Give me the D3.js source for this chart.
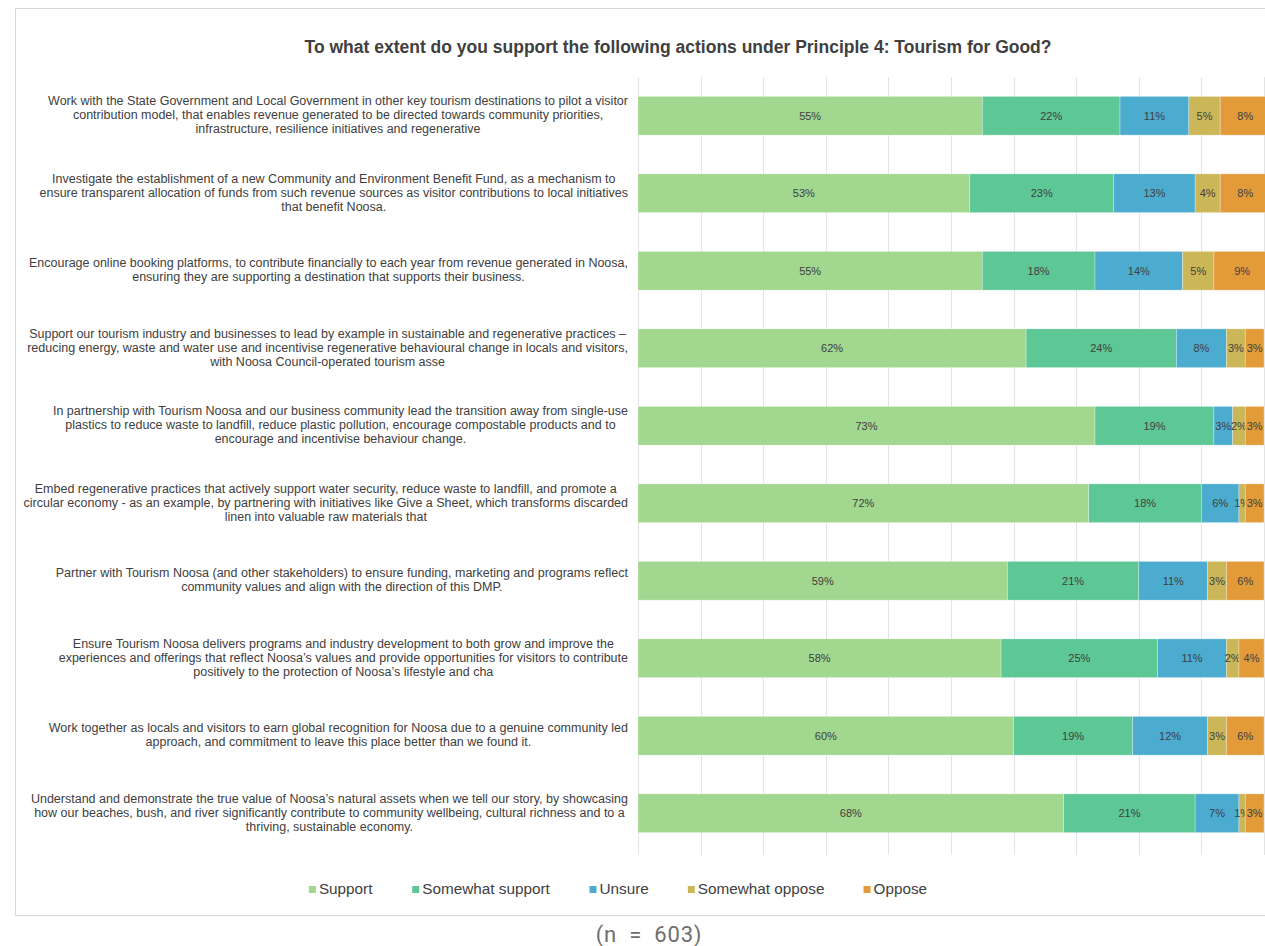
<!DOCTYPE html>
<html>
<head>
<meta charset="utf-8">
<script src="https://cdn.jsdelivr.net/npm/d3@7"></script>
<style>
  body { margin: 0; background: #fff; }
  text { font-family: "Liberation Sans", Arial, sans-serif; }
</style>
</head>
<body>
<div id="chart"></div>
<script>
// Chart data
const categories = [
  ["Work with the State Government and Local Government in other key tourism destinations to pilot a visitor",
   "contribution model, that enables revenue generated to be directed towards community priorities,",
   "infrastructure, resilience initiatives and regenerative"],
  ["Investigate the establishment of a new Community and Environment Benefit Fund, as a mechanism to",
   "ensure transparent allocation of funds from such revenue sources as visitor contributions to local initiatives",
   "that benefit Noosa."],
  ["Encourage online booking platforms, to contribute financially to each year from revenue generated in Noosa,",
   "ensuring they are supporting a destination that supports their business."],
  ["Support our tourism industry and businesses to lead by example in sustainable and regenerative practices –",
   "reducing energy, waste and water use and incentivise regenerative behavioural change in locals and visitors,",
   "with Noosa Council-operated tourism asse"],
  ["In partnership with Tourism Noosa and our business community lead the transition away from single-use",
   "plastics to reduce waste to landfill, reduce plastic pollution, encourage compostable products and to",
   "encourage and incentivise behaviour change."],
  ["Embed regenerative practices that actively support water security, reduce waste to landfill, and promote a",
   "circular economy - as an example, by partnering with initiatives like Give a Sheet, which transforms discarded",
   "linen into valuable raw materials that"],
  ["Partner with Tourism Noosa (and other stakeholders) to ensure funding, marketing and programs reflect",
   "community values and align with the direction of this DMP."],
  ["Ensure Tourism Noosa delivers programs and industry development to both grow and improve the",
   "experiences and offerings that reflect Noosa’s values and provide opportunities for visitors to contribute",
   "positively to the protection of Noosa’s lifestyle and cha"],
  ["Work together as locals and visitors to earn global recognition for Noosa due to a genuine community led",
   "approach, and commitment to leave this place better than we found it."],
  ["Understand and demonstrate the true value of Noosa’s natural assets when we tell our story, by showcasing",
   "how our beaches, bush, and river significantly contribute to community wellbeing, cultural richness and to a",
   "thriving, sustainable economy."]
];

const seriesNames = ["Support", "Somewhat support", "Unsure", "Somewhat oppose", "Oppose"];
const seriesColors = ["#a1d78e", "#5ec796", "#4bacd0", "#cbb757", "#e39a38"];

const support         = [55, 53, 55, 62, 73, 72, 59, 58, 60, 68];
const somewhatSupport = [22, 23, 18, 24, 19, 18, 21, 25, 19, 21];
const unsure          = [11, 13, 14,  8,  3,  6, 11, 11, 12,  7];
const somewhatOppose  = [ 5,  4,  5,  3,  2,  1,  3,  2,  3,  1];
const oppose          = [ 8,  8,  9,  3,  3,  3,  6,  4,  6,  3];

const xTicks = [0, 10, 20, 30, 40, 50, 60, 70, 80, 90, 100];

const title = "To what extent do you support the following actions under Principle 4: Tourism for Good?";
const footnote = "(n = 603)";

// Build table for the stack
const table = categories.map((c, i) => ({
  idx: i,
  "Support": support[i],
  "Somewhat support": somewhatSupport[i],
  "Unsure": unsure[i],
  "Somewhat oppose": somewhatOppose[i],
  "Oppose": oppose[i]
}));

const W = 1265, H = 946;
const textColor = "#404040";

const svg = d3.select("#chart")
  .append("svg")
  .attr("width", W)
  .attr("height", H);

// chart frame
svg.append("rect")
  .attr("x", 15.5)
  .attr("y", 8.5)
  .attr("width", W)
  .attr("height", 907)
  .attr("fill", "none")
  .attr("stroke", "#d9d9d9");

const x = d3.scaleLinear()
  .domain([0, 100])
  .range([638, 1264]);

const y = d3.scaleBand()
  .domain(table.map(d => d.idx))
  .range([77, 852])
  .paddingInner(0.5)
  .paddingOuter(0.25);

// vertical grid
svg.selectAll("line.vertical-grid")
  .data(xTicks)
  .enter()
  .append("line")
  .attr("class", "vertical-grid")
  .attr("x1", d => Math.round(x(d)) + 0.5)
  .attr("x2", d => Math.round(x(d)) + 0.5)
  .attr("y1", 77)
  .attr("y2", 855)
  .style("stroke", "#e3e3e3")
  .style("stroke-width", 1);

const stack = d3.stack().keys(seriesNames);
const layers = stack(table);
const color = d3.scaleOrdinal().domain(seriesNames).range(seriesColors);

const layer = svg.selectAll("g.layer")
  .data(layers)
  .enter().append("g")
  .attr("class", "layer")
  .attr("fill", d => color(d.key));

layer.selectAll("rect")
  .data(d => d)
  .enter().append("rect")
  .attr("x", d => x(d[0]))
  .attr("y", d => y(d.data.idx))
  .attr("width", d => x(d[1]) - x(d[0]))
  .attr("height", y.bandwidth())
  .attr("stroke", "#ffffff")
  .attr("stroke-opacity", 0.5)
  .attr("stroke-width", 0.6);

// segment labels (tiny 1% segments overlap their neighbour, as in the original)
layer.selectAll("text")
  .data(d => d)
  .enter().append("text")
  .attr("x", d => (x(d[0]) + x(d[1])) / 2)
  .attr("y", d => y(d.data.idx) + y.bandwidth() / 2)
  .attr("dy", "0.35em")
  .attr("text-anchor", "middle")
  .style("font-size", "11px")
  .style("fill", textColor)
  .text(d => (d[1] - d[0]) + "%");

// category labels: block right edge at 628, lines centred within block
const lineH = 14;
const labelRight = 628;
svg.selectAll("text.cat")
  .data(categories)
  .enter().append("text")
  .attr("class", "cat")
  .attr("text-anchor", "middle")
  .style("font-size", "12.5px")
  .style("fill", textColor)
  .each(function (lines, i) {
    const cy = y(i) + y.bandwidth() / 2 - 1;
    const top = cy - (lines.length - 1) * lineH / 2;
    const spans = d3.select(this).selectAll("tspan")
      .data(lines)
      .enter().append("tspan")
      .attr("y", (l, j) => top + j * lineH)
      .attr("dy", "0.35em")
      .text(l => l);
    let maxW = 0;
    spans.each(function () { maxW = Math.max(maxW, this.getComputedTextLength()); });
    spans.attr("x", labelRight - maxW / 2);
  });

// title
svg.append("text")
  .attr("x", 678)
  .attr("y", 53)
  .attr("text-anchor", "middle")
  .style("font-size", "17.5px")
  .style("font-weight", "bold")
  .style("fill", textColor)
  .text(title);

// legend
const legend = svg.append("g").attr("class", "legend");
const items = legend.selectAll("g")
  .data(seriesNames)
  .enter().append("g");

items.append("rect")
  .attr("width", 7)
  .attr("height", 7)
  .attr("y", -3)
  .attr("fill", d => color(d));

items.append("text")
  .attr("x", 10)
  .attr("dy", "0.35em")
  .style("font-size", "15.3px")
  .style("fill", textColor)
  .text(d => d);

let lx = 0;
items.each(function () {
  const w = this.getBBox().width;
  d3.select(this).attr("transform", "translate(" + lx + ",0)");
  lx += w + 39;
});
const legendW = lx - 39;
legend.attr("transform", "translate(" + (618 - legendW / 2) + ",889)");

// footnote
svg.append("text")
  .attr("x", 649)
  .attr("y", 942)
  .attr("text-anchor", "middle")
  .style("font-family", "Roboto, sans-serif")
  .style("font-size", "22px")
  .style("word-spacing", "6px")
  .style("letter-spacing", "0.8px")
  .style("fill", "#6e6e6e")
  .text(footnote);
</script>
</body>
</html>
